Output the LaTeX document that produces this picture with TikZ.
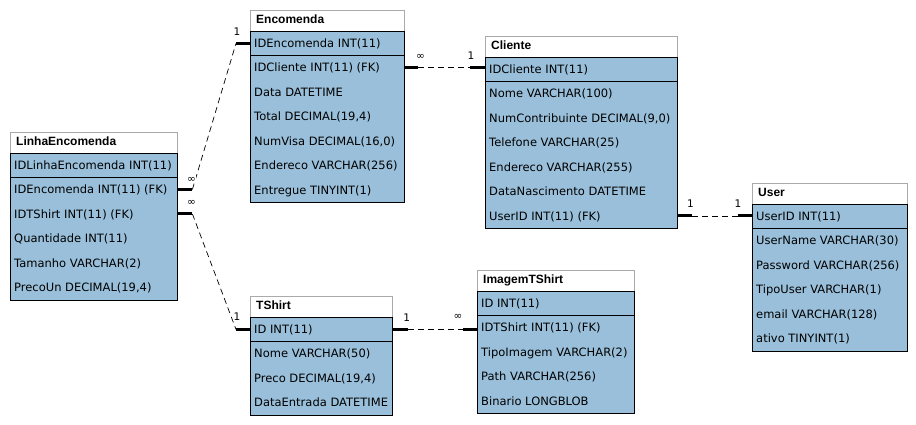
\documentclass[tikz,border=0pt]{standalone}
\usepackage{fontspec}
\setmainfont{DejaVu Sans}
\newfontfamily\ttlfont{Liberation Sans}
\definecolor{rowblue}{HTML}{99BFDA}
\definecolor{ttlgray}{HTML}{AAAAAA}
\tikzset{
 ttlbox/.style={draw=ttlgray, line width=0.8pt, fill=white, minimum height=21pt, inner sep=0pt, anchor=north west},
 ttltext/.style={font=\ttlfont\bfseries\fontsize{12}{14}\selectfont, inner sep=0pt, text height=5pt, text depth=0pt, anchor=west},
 pkbox/.style={draw=black, line width=0.8pt, fill=rowblue, minimum height=24pt, inner sep=0pt, anchor=north west},
 bodybox/.style={draw=black, line width=0.8pt, fill=rowblue, inner sep=0pt, anchor=north west},
 rowbox/.style={minimum height=24.5pt, inner sep=0pt, anchor=north west},
 rowtext/.style={font=\fontsize{11.5}{13}\selectfont, inner sep=0pt, text height=9.4pt, text depth=1pt, anchor=west},
 stub/.style={line width=3pt},
 rel/.style={line width=0.7pt, dash pattern=on 6pt off 4pt},
 card/.style={font=\fontsize{10.5}{12}\selectfont, inner sep=0.5pt, fill=white},
}
\newcommand\ertbl[8]{%
 \node[ttlbox, minimum width=#4pt] (#1) at (#2,#3) {};
 \node[ttltext] (#1-title) at ([xshift=6pt]#1.west) {#6};
 \node[pkbox, minimum width=#4pt] (#1-k) at (#2,#3+21) {};
 \node[rowtext] (#1-ktxt) at ([xshift=4pt]#1-k.west) {#7};
 \node[bodybox, minimum width=#4pt, minimum height=#5*24.5pt] (#1-b) at (#2,#3+45) {};
 \foreach \r [count=\i] in {#8} {%
   \node[rowbox, minimum width=#4pt] (#1-\i) at (#2,{#3+45+(\i-1)*24.5}) {};
   \node[rowtext] (#1-\i-txt) at ([xshift=4pt]#1-\i.west) {\r};
 }%
}
\begin{document}
\begin{tikzpicture}[x=1pt,y=-1pt]
\fill[white] (0,0) rectangle (916,425);
\useasboundingbox (0,0) rectangle (916,425);

\ertbl{le}{10}{132}{167}{5}{LinhaEncomenda}{IDLinhaEncomenda INT(11)}{IDEncomenda INT(11) (FK), IDTShirt INT(11) (FK), Quantidade INT(11), Tamanho VARCHAR(2), {PrecoUn DECIMAL(19,4)}}
\ertbl{enc}{250}{10}{154}{6}{Encomenda}{IDEncomenda INT(11)}{IDCliente INT(11) (FK), Data DATETIME, {Total DECIMAL(19,4)}, {NumVisa DECIMAL(16,0)}, Endereco VARCHAR(256), Entregue TINYINT(1)}
\ertbl{cli}{485}{36}{192}{6}{Cliente}{IDCliente INT(11)}{Nome VARCHAR(100), {NumContribuinte DECIMAL(9,0)}, Telefone VARCHAR(25), Endereco VARCHAR(255), DataNascimento DATETIME, UserID INT(11) (FK)}
\ertbl{usr}{752}{183}{155}{5}{User}{UserID INT(11)}{UserName VARCHAR(30), Password VARCHAR(256), TipoUser VARCHAR(1), email VARCHAR(128), ativo TINYINT(1)}
\ertbl{ts}{250}{296}{142}{3}{TShirt}{ID INT(11)}{Nome VARCHAR(50), {Preco DECIMAL(19,4)}, DataEntrada DATETIME}
\ertbl{img}{477}{270}{157}{4}{ImagemTShirt}{ID INT(11)}{IDTShirt INT(11) (FK), TipoImagem VARCHAR(2), Path VARCHAR(256), Binario LONGBLOB}

% LinhaEncomenda.IDEncomenda -- Encomenda.IDEncomenda
\draw[stub] (le-1.east) -- ++(15,0) coordinate (a1);
\draw[stub] (enc-k.west) -- ++(-14,0) coordinate (b1);
\draw[rel] (a1) -- (b1);
% LinhaEncomenda.IDTShirt -- TShirt.ID
\draw[stub] (le-2.east) -- ++(15,0) coordinate (a2);
\draw[stub] (ts-k.west) -- ++(-14,0) coordinate (b2);
\draw[rel] (a2) -- (b2);
% Encomenda.IDCliente -- Cliente.IDCliente
\draw[stub] (enc-1.east) -- ++(14,0) coordinate (a3);
\draw[stub] (cli-k.west |- enc-1.east) -- ++(-15,0) coordinate (b3);
\draw[rel] (a3) -- (b3);
% Cliente.UserID -- User.UserID
\draw[stub] (cli-6.east) -- ++(15,0) coordinate (a4);
\draw[stub] (usr-k.west |- cli-6.east) -- ++(-14,0) coordinate (b4);
\draw[rel] (a4) -- (b4);
% TShirt.ID -- ImagemTShirt.IDTShirt
\draw[stub] (ts-k.east) -- ++(15,0) coordinate (a5);
\draw[stub] (img-1.west |- ts-k.east) -- ++(-14,0) coordinate (b5);
\draw[rel] (a5) -- (b5);

% cardinalities
\node[card] (a1l) at ([xshift=-1pt,yshift=10pt]a1) {∞};
\node[card] (b1l) at ([xshift=1pt,yshift=12pt]b1) {1};
\node[card] (a2l) at ([xshift=-1pt,yshift=11pt]a2) {∞};
\node[card] (b2l) at ([xshift=1pt,yshift=13pt]b2) {1};
\node[card] (a3l) at ([xshift=2pt,yshift=11pt]a3) {∞};
\node[card] (b3l) at ([xshift=1pt,yshift=12pt]b3) {1};
\node[card] (a4l) at ([xshift=-2pt,yshift=12pt]a4) {1};
\node[card] (b4l) at ([xshift=0pt,yshift=12pt]b4) {1};
\node[card] (a5l) at ([xshift=-1pt,yshift=12pt]a5) {1};
\node[card] (b5l) at ([xshift=-5pt,yshift=12pt]b5) {∞};
\end{tikzpicture}
\end{document}
